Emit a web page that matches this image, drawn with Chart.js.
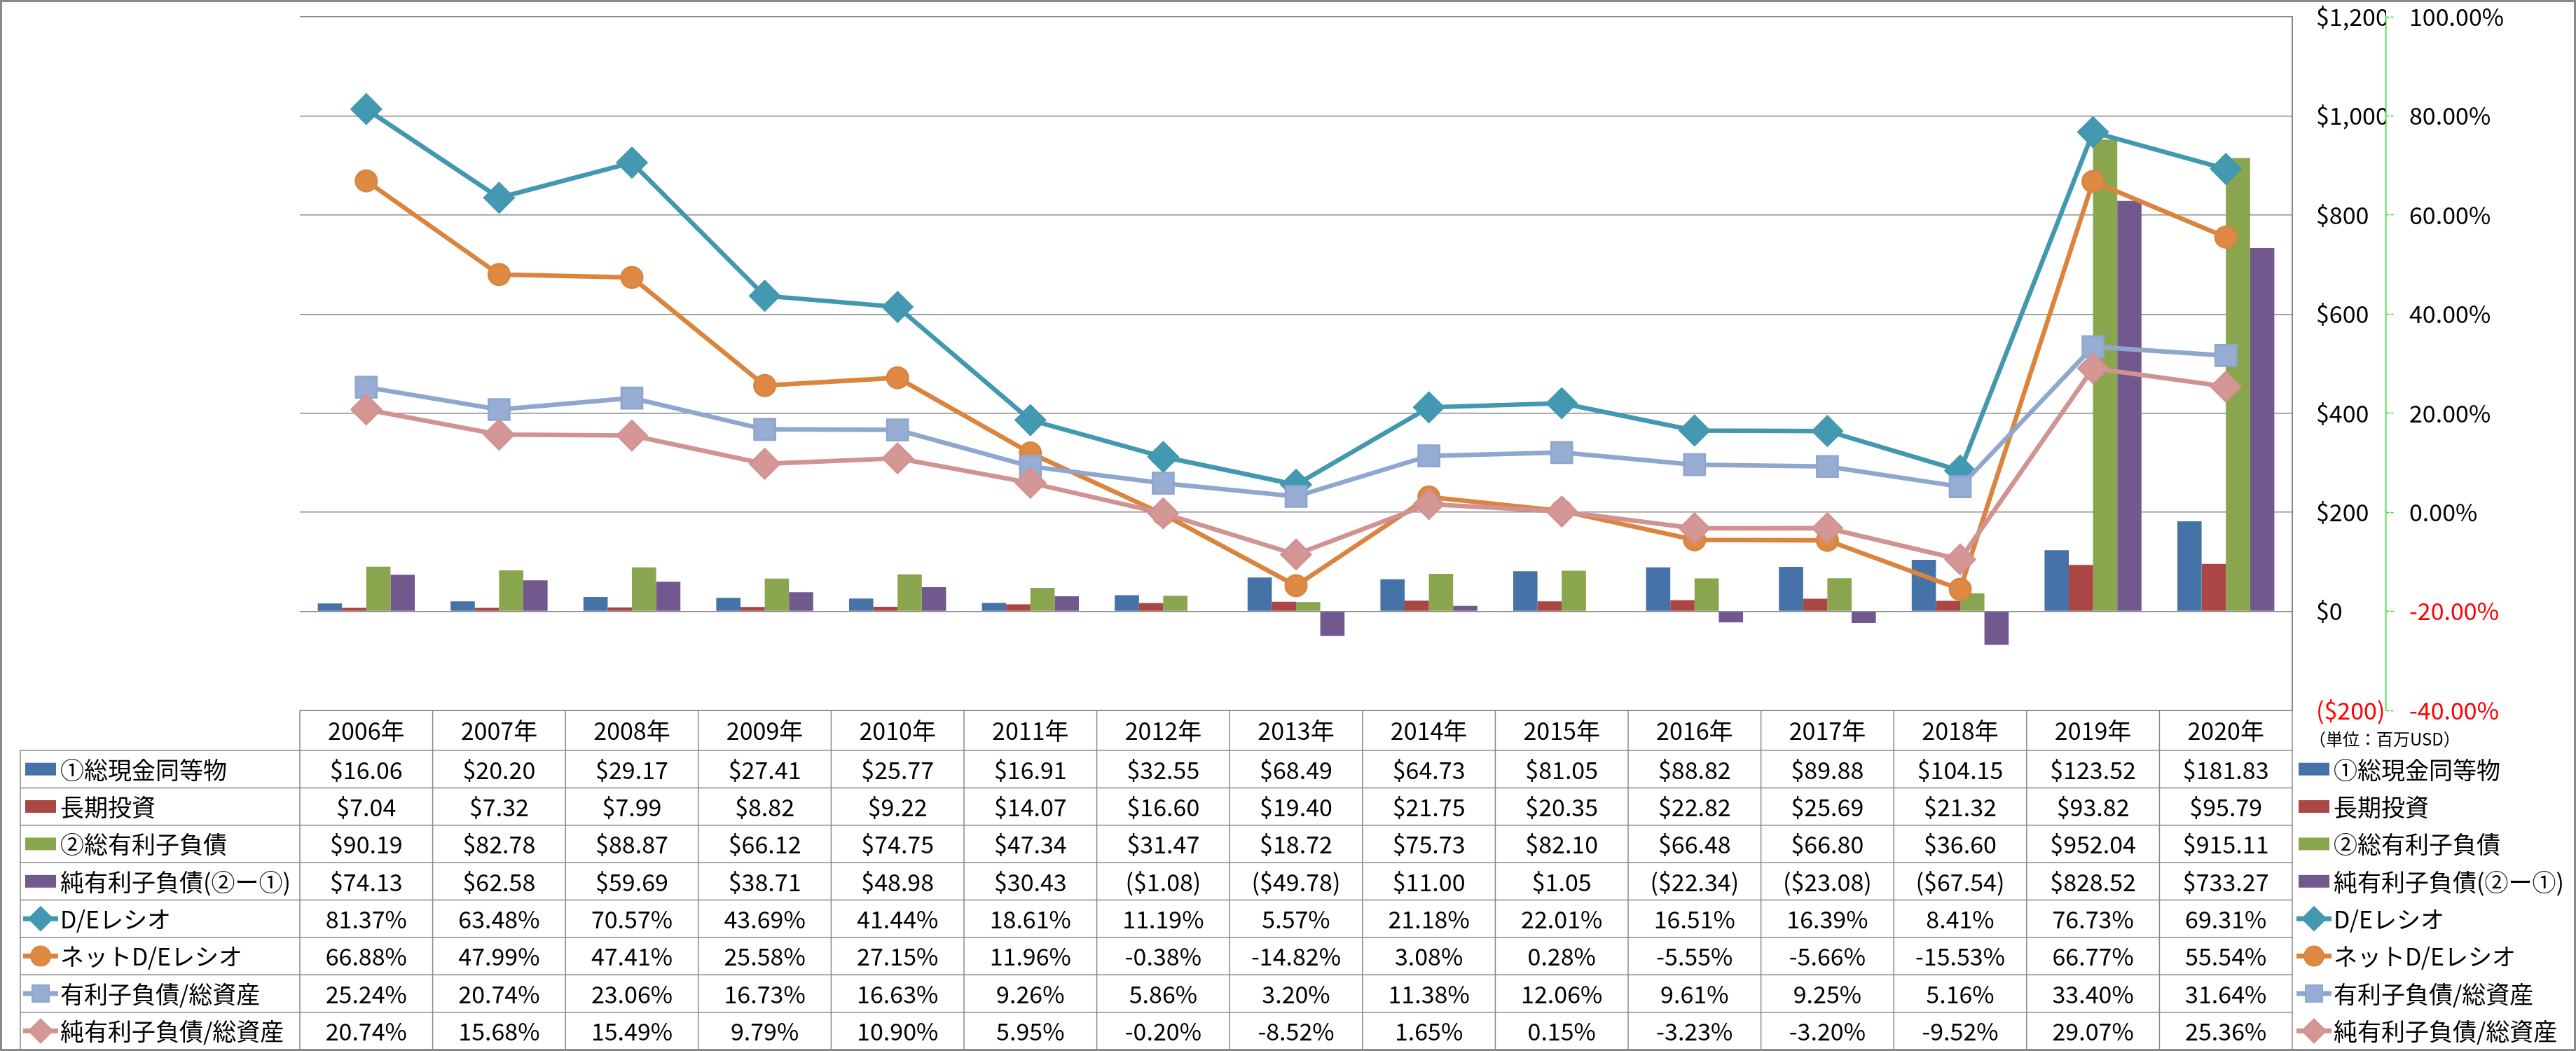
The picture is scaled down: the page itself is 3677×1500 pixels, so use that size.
<!DOCTYPE html>
<html>
<head>
<meta charset="utf-8">
<script src="https://cdn.jsdelivr.net/npm/chart.js@4.4.1/dist/chart.umd.min.js"></script>
<style>
  html, body { margin: 0; padding: 0; background: #fff; }
  canvas { display: block; }
</style>
</head>
<body>
<canvas id="debtChart" width="3677" height="1500"></canvas>
<script>
// Categories
const years = ['2006年', '2007年', '2008年', '2009年', '2010年', '2011年', '2012年', '2013年',
               '2014年', '2015年', '2016年', '2017年', '2018年', '2019年', '2020年'];

// Bar series (百万USD)
const cashTotal       = [16.06, 20.20, 29.17, 27.41, 25.77, 16.91, 32.55, 68.49, 64.73, 81.05, 88.82, 89.88, 104.15, 123.52, 181.83];
const longTermInvest  = [7.04, 7.32, 7.99, 8.82, 9.22, 14.07, 16.60, 19.40, 21.75, 20.35, 22.82, 25.69, 21.32, 93.82, 95.79];
const totalDebt       = [90.19, 82.78, 88.87, 66.12, 74.75, 47.34, 31.47, 18.72, 75.73, 82.10, 66.48, 66.80, 36.60, 952.04, 915.11];
const netDebt         = [74.13, 62.58, 59.69, 38.71, 48.98, 30.43, -1.08, -49.78, 11.00, 1.05, -22.34, -23.08, -67.54, 828.52, 733.27];

// Line series (%)
const deRatio         = [81.37, 63.48, 70.57, 43.69, 41.44, 18.61, 11.19, 5.57, 21.18, 22.01, 16.51, 16.39, 8.41, 76.73, 69.31];
const netDeRatio      = [66.88, 47.99, 47.41, 25.58, 27.15, 11.96, -0.38, -14.82, 3.08, 0.28, -5.55, -5.66, -15.53, 66.77, 55.54];
const debtToAssets    = [25.24, 20.74, 23.06, 16.73, 16.63, 9.26, 5.86, 3.20, 11.38, 12.06, 9.61, 9.25, 5.16, 33.40, 31.64];
const netDebtToAssets = [20.74, 15.68, 15.49, 9.79, 10.90, 5.95, -0.20, -8.52, 1.65, 0.15, -3.23, -3.20, -9.52, 29.07, 25.36];

const seriesNames = ['①総現金同等物', '長期投資', '②総有利子負債', '純有利子負債(②ー①)',
                     'D/Eレシオ', 'ネットD/Eレシオ', '有利子負債/総資産', '純有利子負債/総資産'];

// Axis ticks
const moneyTicks = { min: -200, max: 1200, step: 200 };
const ratioTicks = { min: -40, max: 100, step: 20 };
const unitNote = '（単位：百万USD）';

const FONT = "'Noto Sans CJK JP', 'Liberation Sans', sans-serif";
const FONT_SIZE = 34;
const LINE_GRAY = '#898989';
const AXIS_GREEN = '#22dd22';

function fmtMoney(v) {
    return v < 0 ? '($' + Math.abs(v).toFixed(2) + ')' : '$' + v.toFixed(2);
}
function fmtPct(v) {
    return v.toFixed(2) + '%';
}

function barSet(label, data, color) {
    return {
        type: 'bar', label: label, data: data, yAxisID: 'y',
        backgroundColor: color, borderWidth: 0,
        categoryPercentage: 0.73, barPercentage: 1.0, order: 10
    };
}
function lineSet(label, data, color, fill, style, radius, order) {
    return {
        type: 'line', label: label, data: data, yAxisID: 'y1',
        borderColor: color, borderWidth: 6.5, tension: 0,
        pointStyle: style, pointRadius: radius,
        pointBackgroundColor: fill, pointBorderColor: color, pointBorderWidth: 3,
        order: order
    };
}

const datasets = [
    barSet(seriesNames[0], cashTotal, '#4572A7'),
    barSet(seriesNames[1], longTermInvest, '#AA4643'),
    barSet(seriesNames[2], totalDebt, '#89A54E'),
    barSet(seriesNames[3], netDebt, '#71588F'),
    lineSet(seriesNames[4], deRatio, '#4198AF', '#4499B2', 'rectRot', 21, 4),
    lineSet(seriesNames[5], netDeRatio, '#DB843D', '#DE8A44', 'circle', 15, 3),
    lineSet(seriesNames[6], debtToAssets, '#8FA7CE', '#97ADD3', 'rect', 21, 2),
    lineSet(seriesNames[7], netDebtToAssets, '#D19392', '#D49796', 'rectRot', 21, 1)
];

// draw a legend key (bar swatch or line+marker) centred on cx, cy
function drawKey(ctx, ds, cx, cy) {
    ctx.save();
    if (ds.type === 'line') {
        ctx.strokeStyle = ds.borderColor;
        ctx.lineWidth = 7;
        ctx.beginPath();
        ctx.moveTo(cx - 25, cy);
        ctx.lineTo(cx + 25, cy);
        ctx.stroke();
        ctx.fillStyle = ds.pointBackgroundColor;
        ctx.lineWidth = 2;
        Chart.helpers.drawPoint(ctx, {
            pointStyle: ds.pointStyle,
            radius: ds.pointStyle === 'circle' ? 14 : 17,
            borderWidth: 2, rotation: 0
        }, cx, cy);
    } else {
        ctx.fillStyle = ds.backgroundColor;
        ctx.fillRect(cx - 22, cy - 9, 44, 18);
    }
    ctx.restore();
}

const whiteBg = {
    id: 'whiteBg',
    beforeDraw(chart) {
        const ctx = chart.ctx;
        ctx.save();
        ctx.fillStyle = '#ffffff';
        ctx.fillRect(0, 0, chart.width, chart.height);
        ctx.restore();
    }
};

// Data table under the plot + legend on the right
const dataTable = {
    id: 'dataTable',
    afterDraw(chart) {
        const ctx = chart.ctx;
        const area = chart.chartArea;
        const xs = chart.scales.x;
        const half = (xs.getPixelForValue(1) - xs.getPixelForValue(0)) / 2;
        const sets = chart.data.datasets;
        const headTop = area.bottom;
        const headBottom = headTop + 57;
        const tableBottom = chart.height - 2;
        const rowH = (tableBottom - headBottom) / sets.length;
        const labelLeft = 29;

        ctx.save();
        ctx.strokeStyle = LINE_GRAY;
        ctx.lineWidth = 1.5;

        // horizontal rules
        ctx.beginPath();
        ctx.moveTo(area.left, headTop);
        ctx.lineTo(area.right, headTop);
        for (let k = 0; k <= sets.length; k++) {
            const y = headBottom + k * rowH;
            ctx.moveTo(labelLeft, y);
            ctx.lineTo(area.right, y);
        }
        // vertical rules
        for (let i = 0; i < years.length; i++) {
            const x = xs.getPixelForValue(i) - half;
            ctx.moveTo(x, headTop);
            ctx.lineTo(x, tableBottom);
        }
        ctx.moveTo(area.right, headTop);
        ctx.lineTo(area.right, tableBottom);
        ctx.moveTo(labelLeft, headBottom);
        ctx.lineTo(labelLeft, tableBottom);
        ctx.stroke();

        ctx.fillStyle = '#000000';
        ctx.font = FONT_SIZE + 'px ' + FONT;
        ctx.textBaseline = 'middle';

        // header
        ctx.textAlign = 'center';
        years.forEach((yr, i) => {
            ctx.fillText(yr, xs.getPixelForValue(i), (headTop + headBottom) / 2 + 1);
        });

        // rows
        sets.forEach((ds, r) => {
            const cy = headBottom + (r + 0.5) * rowH;
            const fmt = ds.yAxisID === 'y' ? fmtMoney : fmtPct;
            ctx.fillStyle = '#000000';
            ctx.textAlign = 'center';
            ds.data.forEach((v, i) => {
                ctx.fillText(fmt(v), xs.getPixelForValue(i), cy + 1);
            });
            // row header
            drawKey(ctx, ds, 58, cy);
            ctx.fillStyle = '#000000';
            ctx.textAlign = 'left';
            ctx.fillText(ds.label, 86, cy + 1);
            // right legend
            drawKey(ctx, ds, 3303, cy);
            ctx.fillStyle = '#000000';
            ctx.fillText(ds.label, 3331, cy + 1);
        });

        // unit note
        ctx.font = '24px ' + FONT;
        ctx.textAlign = 'left';
        ctx.fillText(unitNote, 3296, 1055);

        // chart frame
        ctx.strokeStyle = LINE_GRAY;
        ctx.lineWidth = 3;
        ctx.strokeRect(1.5, 1.5, chart.width - 3, chart.height - 3);
        ctx.restore();
    }
};

const redIfNegative = (c) => (c.tick && c.tick.value < 0) ? '#ff0000' : '#000000';

// keep the plot area where the layout padding puts it (labels may overhang)
function fixWidth(w) {
    return function (scale) {
        scale.width = w;
        scale.paddingTop = 0;
        scale.paddingBottom = 0;
    };
}

new Chart(document.getElementById('debtChart'), {
    data: { labels: years, datasets: datasets },
    options: {
        responsive: false,
        devicePixelRatio: 1,
        animation: false,
        layout: { padding: { left: 428, top: 21, right: 0, bottom: 486 } },
        plugins: {
            legend: { display: false },
            tooltip: { enabled: false }
        },
        scales: {
            x: {
                type: 'category',
                display: false,
                offset: true,
                grid: { display: false }
            },
            y: {
                position: 'right',
                min: moneyTicks.min,
                max: moneyTicks.max,
                ticks: {
                    stepSize: moneyTicks.step,
                    padding: 34,
                    color: redIfNegative,
                    font: { family: FONT, size: FONT_SIZE },
                    callback: (v) => v < 0 ? '($' + Math.abs(v).toLocaleString('en-US') + ')'
                                           : '$' + v.toLocaleString('en-US')
                },
                grid: { color: LINE_GRAY, lineWidth: 1.5, drawTicks: false },
                border: { display: true, color: LINE_GRAY, width: 2 },
                afterFit: fixWidth(134)
            },
            y1: {
                position: 'right',
                min: ratioTicks.min,
                max: ratioTicks.max,
                ticks: {
                    stepSize: ratioTicks.step,
                    padding: 22,
                    color: redIfNegative,
                    font: { family: FONT, size: FONT_SIZE },
                    callback: (v) => v.toFixed(2) + '%'
                },
                grid: {
                    drawOnChartArea: false,
                    drawTicks: true,
                    tickLength: 11,
                    tickColor: AXIS_GREEN,
                    tickWidth: 1.5,
                    tickBorderDash: [4, 2]
                },
                border: { display: true, color: AXIS_GREEN, width: 1.5, dash: [5, 3] },
                afterFit: fixWidth(271)
            }
        }
    },
    plugins: [whiteBg, dataTable]
});
</script>
</body>
</html>
